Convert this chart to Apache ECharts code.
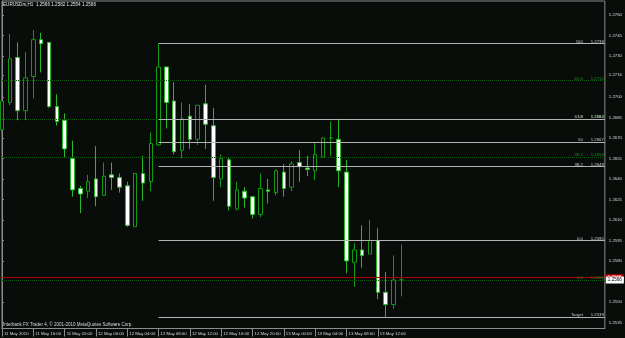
<!DOCTYPE html>
<html><head><meta charset="utf-8">
<script src="https://cdn.jsdelivr.net/npm/echarts@6/dist/echarts.min.js"></script>
<style>html,body{margin:0;padding:0;background:#090d0a;}#c{width:625px;height:338px;}</style>
</head><body><div id="c"></div>
<script>
// ---- data (EURUSDm H1, 52 hourly bars) ----
const timeLabels = ['11 May 2010','11 May 16:00','11 May 20:00','12 May 00:00','12 May 04:00','12 May 08:00','12 May 12:00','12 May 16:00','12 May 20:00','13 May 00:00','13 May 04:00','13 May 08:00','13 May 12:00'];
const labelBars = [0,4,8,12,16,20,24,28,32,36,40,44,48];
const opens  = [1.2676,1.2696,1.2729,1.2690,1.2715,1.2742,1.2740,1.2693,1.2683,1.2655,1.2633,1.2631,1.2640,1.2628,1.2643,1.2641,1.2635,1.2605,1.2644,1.2638,1.2665,1.2722,1.2697,1.2661,1.2686,1.2669,1.2695,1.2679,1.2640,1.2654,1.2618,1.2631,1.2627,1.2614,1.2632,1.2630,1.2645,1.2634,1.2652,1.2648,1.2646,1.2656,1.2670,1.2669,1.2645,1.2579,1.2588,1.2585,1.2595,1.2557,1.2548,1.2566];
const highs  = [1.2714,1.2746,1.2740,1.2733,1.2749,1.2747,1.2740,1.2702,1.2688,1.2668,1.2635,1.2643,1.2664,1.2652,1.2652,1.2644,1.2638,1.2644,1.2657,1.2674,1.2739,1.2722,1.2711,1.2696,1.2695,1.2694,1.2709,1.2692,1.2658,1.2656,1.2638,1.2634,1.2627,1.2644,1.2640,1.2647,1.2651,1.2653,1.2661,1.2657,1.2667,1.2670,1.2682,1.2684,1.2654,1.2593,1.2606,1.2610,1.2604,1.2572,1.2584,1.2592];
const lows   = [1.2674,1.2694,1.2683,1.2683,1.2699,1.2718,1.2692,1.2679,1.2656,1.2627,1.2615,1.2626,1.2620,1.2628,1.2632,1.2630,1.2605,1.2605,1.2624,1.2631,1.2664,1.2677,1.2658,1.2655,1.2662,1.2665,1.2662,1.2624,1.2634,1.2617,1.2617,1.2619,1.2611,1.2612,1.2622,1.2628,1.2627,1.2631,1.2638,1.2642,1.2639,1.2656,1.2657,1.2634,1.2571,1.2561,1.2575,1.2585,1.2552,1.2539,1.2545,1.2554];
const closes = [1.2697,1.2728,1.2690,1.2714,1.2742,1.2739,1.2693,1.2682,1.2662,1.2632,1.2629,1.2638,1.2627,1.2642,1.2641,1.2634,1.2606,1.2644,1.2637,1.2666,1.2722,1.2696,1.2660,1.2684,1.2669,1.2694,1.2680,1.2641,1.2655,1.2620,1.2632,1.2626,1.2614,1.2633,1.2631,1.2646,1.2633,1.2651,1.2649,1.2647,1.2658,1.2670,1.2670,1.2646,1.2580,1.2588,1.2584,1.2595,1.2557,1.2548,1.2566,1.2566];

const priceTicks = [1.2535,1.2550,1.2580,1.2595,1.2610,1.2625,1.2640,1.2655,1.2670,1.2685,1.2700,1.2716,1.2730,1.2745,1.2760];
const priceTickLabels = ['1.2535','1.2550','1.2580','1.2595','1.2610','1.2625','1.2640','1.2655','1.2670','1.2685','1.2700','1.2716','1.2730','1.2745','1.2760'];

// Fibonacci object 1 (silver, starts at bar 20)
const fibStartBar = 20;
const fibLevels = ['100','61.8','50','38.2','0.0','Target'];
const fibPrices = [1.2739,1.2684,1.2667,1.2649,1.2595,1.2539];
// Fibonacci object 2 (green dotted, full width)
const fib2Levels = ['61.8','50','38.2','0.0'];
const fib2Prices = [1.2712,1.2684,1.2656,1.2566];

const bidPrice = 1.2566, askPrice = 1.2568;
const headerText = 'EURUSDm,H1  1.2566 1.2582 1.2554 1.2566';
const copyrightText = 'Interbank FX Trader 4, \u00A9 2001-2010 MetaQuotes Software Corp.';

// ---- chart ----
const FONT = 'Liberation Sans';
const BG = '#090d0a';
const X_MIN = 0, X_MAX = 77;
const candleData = opens.map((o, i) => [i, o, closes[i], lows[i], highs[i]]);

function findIdx(arr, v) {
  for (let k = 0; k < arr.length; k++) if (Math.abs(arr[k] - v) < 1e-7) return k;
  return -1;
}
function fibLabel(color) {
  return {
    show: true, position: 'insideEndTop', distance: [1, 0],
    formatter: p => '{l|' + p.data.lvl + '}{p|' + p.data.px + '}',
    rich: {
      l: { width: 22, align: 'right', fontSize: 4.3, fontFamily: FONT, color: color },
      p: { width: 21, align: 'right', fontSize: 4.3, fontFamily: FONT, color: color }
    }
  };
}
function hLine(x0, price, extra) {
  return [Object.assign({ coord: [x0, price] }, extra), { coord: [X_MAX, price] }];
}

const markData = [];
fib2Prices.forEach((p, k) => {
  markData.push(hLine(X_MIN, p, { lvl: fib2Levels[k], px: p.toFixed(4),
    lineStyle: { type: 'dotted', color: '#0c5f0c', width: 1 },
    label: fibLabel('#248a24') }));
});
fibPrices.forEach((p, k) => {
  markData.push(hLine(fibStartBar, p, { lvl: fibLevels[k], px: p.toFixed(4),
    lineStyle: { type: 'solid', color: '#b4b4b4', width: 1 },
    label: fibLabel('#cfcfcf') }));
});
markData.push(hLine(X_MIN, askPrice, {
  lineStyle: { type: 'solid', color: '#b00000', width: 1 },
  label: { show: true, position: 'end', distance: 1, formatter: askPrice.toFixed(4),
    backgroundColor: '#d00000', color: '#ffffff', padding: [1, 2], fontSize: 4.4, fontFamily: FONT } }));
markData.push(hLine(X_MIN, bidPrice, {
  lineStyle: { type: 'solid', color: 'rgba(0,0,0,0)', width: 1 },
  label: { show: true, position: 'end', distance: 1, formatter: bidPrice.toFixed(4),
    backgroundColor: '#ffffff', color: '#000000', padding: [1, 2], fontSize: 4.6, fontFamily: FONT } }));

const chart = echarts.init(document.getElementById('c'));
chart.setOption({
  backgroundColor: BG,
  animation: false,
  title: [
    { text: headerText, left: 3, top: 2.5, padding: 0,
      textStyle: { color: '#e4e4e4', fontSize: 4.6, fontWeight: 'normal', fontFamily: FONT } },
    { text: copyrightText, left: 3, top: 322.5, padding: 0,
      textStyle: { color: '#d8d8d8', fontSize: 4.5, fontWeight: 'normal', fontFamily: FONT } }
  ],
  grid: { left: 2, right: 19, top: 1, bottom: 9.5, show: true, borderColor: '#8c8c8c', borderWidth: 1 },
  xAxis: {
    type: 'value', min: X_MIN, max: X_MAX,
    axisLine: { show: true, lineStyle: { color: '#8c8c8c' } },
    axisTick: { show: true, customValues: labelBars, length: 8, lineStyle: { color: '#8c8c8c' } },
    axisLabel: { customValues: labelBars, formatter: v => { const k = findIdx(labelBars, v); return k < 0 ? '' : timeLabels[k]; },
      color: '#dcdcdc', fontSize: 4.3, fontFamily: FONT, align: 'left', margin: 3, padding: [0, 0, 0, 2] },
    splitLine: { show: false }
  },
  yAxis: {
    type: 'value', position: 'right', min: 1.25305, max: 1.27703,
    axisLine: { show: true, lineStyle: { color: '#8c8c8c' } },
    axisTick: { show: true, customValues: priceTicks, length: 2, lineStyle: { color: '#8c8c8c' } },
    axisLabel: { customValues: priceTicks, formatter: v => { const k = findIdx(priceTicks, v); return k < 0 ? '' : priceTickLabels[k]; },
      color: '#dcdcdc', fontSize: 4.3, fontFamily: FONT, margin: 4 },
    splitLine: { show: false }
  },
  series: [{
    type: 'candlestick',
    data: candleData,
    barWidth: 4,
    clip: true,
    itemStyle: { color: BG, color0: '#ffffff', borderColor: '#129a12', borderColor0: '#2bb82b', borderWidth: 1 },
    markLine: { symbol: 'none', silent: true, animation: false, data: markData }
  }]
});
</script></body></html>
